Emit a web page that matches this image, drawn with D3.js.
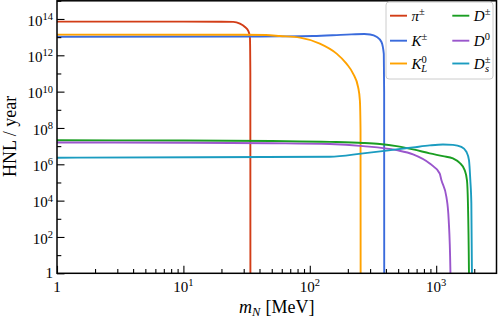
<!DOCTYPE html>
<html>
<head>
<meta charset="utf-8">
<script src="https://cdn.jsdelivr.net/npm/d3@7"></script>
<style>
  body { margin: 0; background: #fff; }
  text { font-family: "Liberation Serif", "Times New Roman", serif; fill: #000; }
</style>
</head>
<body>
<div id="wrapper"></div>
<script>
// values: [m_N (MeV), HNL / year]
const piData = [[1, 7.1e13], [10, 7.1e13], [20, 7.05e13], [24.8, 6.9e13], [28, 5.5e13], [30.7, 3.6e13], [32.6, 2.2e13], [33.6, 1.0e13], [33.85, 1e11], [33.9, 0.1]]
const kData = [[1, 1.05e13], [30, 1.08e13], [58, 1.1e13], [106, 1.15e13], [195, 1.38e13], [270, 1.48e13], [300, 1.4e13], [337, 1.05e13], [369, 5.4e12], [385, 1.2e12], [387.5, 1e10], [388, 0.1]]
const kLData = [[1, 1.37e13], [30, 1.36e13], [45, 1.3e13], [58, 1.15e13], [83.5, 9.4e12], [120, 4.4e12], [163, 1.24e12], [195, 3.5e11], [220, 9.9e10], [241, 1.8e10], [249, 3.3e9], [252, 7.6e7], [252.5, 0.1]]
const dData = [[1, 2.1e7], [10, 2.05e7], [50, 1.9e7], [144, 1.72e7], [264, 1.5e7], [358, 1.3e7], [485, 1.0e7], [656, 6.6e6], [889, 4.0e6], [1132, 2.8e6], [1358, 2.1e6], [1534, 1.2e6], [1680, 4.8e5], [1751, 1.35e5], [1783, 7.3e3], [1816, 1.5], [1822, 0.1]]
const d0Data = [[1, 1.6e7], [10, 1.55e7], [50, 1.45e7], [144, 1.3e7], [264, 1.0e7], [485, 6.0e6], [656, 3.5e6], [889, 1.1e6], [1066, 3.1e5], [1099, 1.35e5], [1204, 1.6e4], [1256, 850], [1295, 1.5], [1300, 0.1]]
const dsData = [[1, 2.3e6], [13.6, 2.45e6], [144, 2.6e6], [264, 4.0e6], [485, 6.6e6], [656, 8.5e6], [889, 1.1e7], [1132, 1.23e7], [1358, 1.18e7], [1582, 9.1e6], [1733, 4.9e6], [1817, 1.7e6], [1862, 1.35e5], [1897, 7.3e3], [1917, 1.5], [1921, 0.1]]

const xMajor = [1, 10, 100, 1000]
const xMinor = [2, 3, 4, 5, 6, 7, 8, 9, 20, 30, 40, 50, 60, 70, 80, 90, 200, 300, 400, 500, 600, 700, 800, 900, 2000]
const yMajor = [1, 1e2, 1e4, 1e6, 1e8, 1e10, 1e12, 1e14]
const yMinor = [1e1, 1e3, 1e5, 1e7, 1e9, 1e11, 1e13, 1e15]

// legend: [base, superscript, subscript, colour, data]
const series = [
  ["π", "±", "", "#d23d17", piData],
  ["K", "±", "", "#3a6bdc", kData],
  ["K", "0", "L", "#ffa200", kLData],
  ["D", "±", "", "#1a9e22", dData],
  ["D", "0", "", "#9a56cc", d0Data],
  ["D", "±", "s", "#1b9cc0", dsData],
]

const dimensions = {
  width: 498,
  height: 323,
  margin: { top: 0.8, right: 1.5, bottom: 49.7, left: 57 },
}
dimensions.boundedWidth = dimensions.width - dimensions.margin.left - dimensions.margin.right
dimensions.boundedHeight = dimensions.height - dimensions.margin.top - dimensions.margin.bottom

const svg = d3.select("#wrapper")
  .append("svg")
  .attr("width", dimensions.width)
  .attr("height", dimensions.height)

const bounds = svg.append("g")
  .attr("transform", `translate(${dimensions.margin.left},${dimensions.margin.top})`)

const xScale = d3.scaleLog()
  .domain([1, 3000])
  .range([0, dimensions.boundedWidth])
const yScale = d3.scaleLog()
  .domain([1, 1e15])
  .range([dimensions.boundedHeight, 0])

bounds.append("clipPath").attr("id", "clip")
  .append("rect")
  .attr("width", dimensions.boundedWidth)
  .attr("height", dimensions.boundedHeight)

// curves
const lineGenerator = d3.line()
  .x(d => xScale(d[0]))
  .y(d => yScale(d[1]))
  .curve(d3.curveMonotoneX)

const lines = bounds.append("g").attr("clip-path", "url(#clip)")
series.forEach(s => {
  lines.append("path")
    .attr("d", lineGenerator(s[4]))
    .attr("fill", "none")
    .attr("stroke", s[3])
    .attr("stroke-width", 1.9)
})

// ticks pointing inward
const tickStyle = g => {
  g.select(".domain").remove()
  g.selectAll(".tick line").attr("stroke", "#000").attr("stroke-width", 1.1)
}
bounds.append("g")
  .attr("transform", `translate(0,${dimensions.boundedHeight})`)
  .call(d3.axisBottom(xScale).tickValues(xMajor).tickSizeInner(-7.5).tickSizeOuter(0).tickFormat(""))
  .call(tickStyle)
bounds.append("g")
  .attr("transform", `translate(0,${dimensions.boundedHeight})`)
  .call(d3.axisBottom(xScale).tickValues(xMinor).tickSizeInner(-4.3).tickSizeOuter(0).tickFormat(""))
  .call(tickStyle)
bounds.append("g")
  .call(d3.axisLeft(yScale).tickValues(yMajor).tickSizeInner(-7.5).tickSizeOuter(0).tickFormat(""))
  .call(tickStyle)
bounds.append("g")
  .call(d3.axisLeft(yScale).tickValues(yMinor).tickSizeInner(-4.3).tickSizeOuter(0).tickFormat(""))
  .call(tickStyle)

// tick labels as 10^n
const powerLabel = (sel, v) => {
  const e = Math.round(Math.log10(v))
  if (e === 0) { sel.text("1"); return }
  sel.append("tspan").text("10")
  sel.append("tspan").attr("dy", -5.5).style("font-size", "10.5px").text(e)
}
bounds.append("g").selectAll("text")
  .data(xMajor)
  .join("text")
  .attr("x", d => xScale(d))
  .attr("y", dimensions.boundedHeight + 18.5)
  .attr("text-anchor", "middle")
  .style("font-size", "15px")
  .each(function(d) { powerLabel(d3.select(this), d) })
bounds.append("g").selectAll("text")
  .data(yMajor)
  .join("text")
  .attr("x", -4)
  .attr("y", d => yScale(d) + (d === 1 ? 5 : 6.7))
  .attr("text-anchor", "end")
  .style("font-size", "15px")
  .each(function(d) { powerLabel(d3.select(this), d) })

// frame
bounds.append("rect")
  .attr("width", dimensions.boundedWidth)
  .attr("height", dimensions.boundedHeight)
  .attr("fill", "none")
  .attr("stroke", "#000")
  .attr("stroke-width", 1.5)

// axis titles
const xTitle = bounds.append("text")
  .attr("x", dimensions.boundedWidth / 2)
  .attr("y", dimensions.boundedHeight + 40)
  .attr("text-anchor", "middle")
  .style("font-size", "18px")
xTitle.append("tspan").style("font-style", "italic").text("m")
xTitle.append("tspan").attr("dy", 3).style("font-style", "italic").style("font-size", "12.5px").text("N")
xTitle.append("tspan").attr("dy", -3).attr("dx", 5).text("[MeV]")

svg.append("text")
  .attr("transform", `translate(16,${dimensions.margin.top + 135.5}) rotate(-90)`)
  .attr("text-anchor", "middle")
  .style("font-size", "18px")
  .text("HNL / year")

// legend
const legend = svg.append("g").attr("transform", "translate(386,2)")
legend.append("rect")
  .attr("width", 107)
  .attr("height", 77)
  .attr("rx", 3)
  .attr("fill", "#fff")
  .attr("fill-opacity", 0.85)
  .attr("stroke", "#cccccc")
  .attr("stroke-width", 1)

const legendRows = [13.7, 38.7, 61.5]
series.forEach((s, i) => {
  const col = Math.floor(i / 3)
  const row = i % 3
  const x0 = col === 0 ? 4 : 66.3
  const item = legend.append("g").attr("transform", `translate(${x0},${legendRows[row]})`)
  item.append("line")
    .attr("x1", 0).attr("x2", 17)
    .attr("stroke", s[3])
    .attr("stroke-width", 1.9)
  const t = item.append("text")
    .attr("x", 21.5)
    .attr("y", 5)
    .style("font-size", "15px")
  t.append("tspan").style("font-style", "italic").text(s[0])
  t.append("tspan").attr("dy", -6).style("font-size", "10.5px").text(s[1])
  if (s[2]) {
    t.append("tspan")
      .attr("dx", -5.5)
      .attr("dy", 9.5)
      .style("font-size", "10.5px")
      .style("font-style", "italic")
      .text(s[2])
  }
})
</script>
</body>
</html>
